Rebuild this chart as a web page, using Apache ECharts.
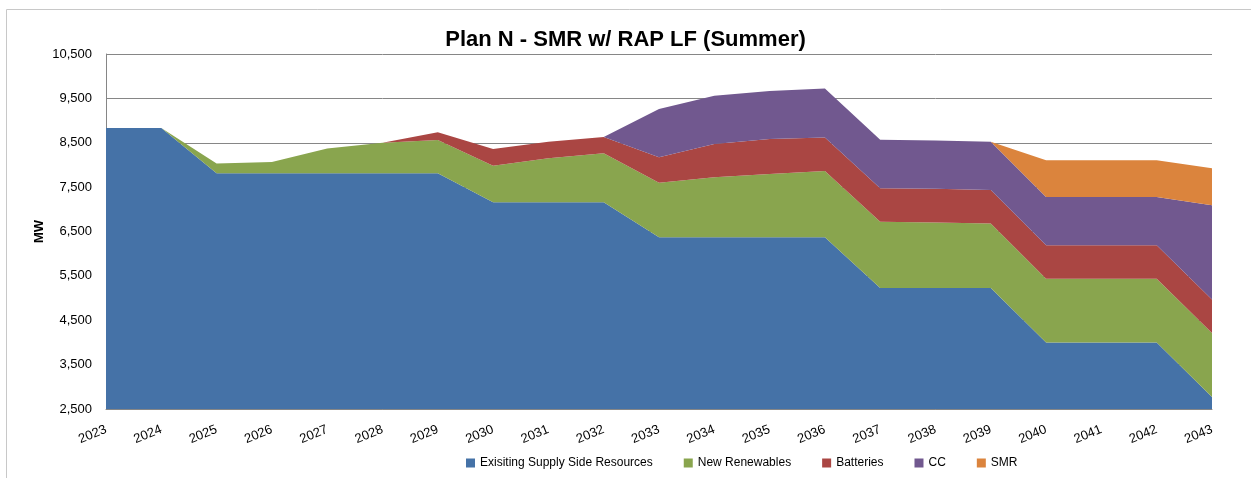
<!DOCTYPE html>
<html>
<head>
<meta charset="utf-8">
<script src="https://cdn.jsdelivr.net/npm/echarts@6/dist/echarts.min.js"></script>
<style>
html,body{margin:0;padding:0;background:#fff;}
#c{width:1251px;height:478px;}
</style>
</head>
<body>
<div id="c"></div>
<script>
var years = ['2023','2024','2025','2026','2027','2028','2029','2030','2031','2032','2033','2034','2035','2036','2037','2038','2039','2040','2041','2042','2043'];
var existing = [8830,8830,7810,7810,7810,7810,7810,7160,7160,7160,6370,6370,6370,6370,5224,5224,5224,4000,4000,4000,2770];
var renewables = [0,0,225,254,563,690,754,824,990,1104,1229,1351,1425,1493,1493,1480,1455,1434,1434,1434,1441];
var batteries = [0,0,0,0,0,0,173,376,374,367,572,749,788,758,759,759,759,758,758,758,757];
var cc = [0,0,0,0,0,0,0,0,0,0,1088,1088,1081,1104,1094,1090,1087,1088,1088,1088,2125];
var smr = [0,0,0,0,0,0,0,0,0,0,0,0,0,0,0,0,0,826,826,826,833];
var yTicks = [2500,3500,4500,5500,6500,7500,8500,9500,10500];

var names = ['Exisiting Supply Side Resources','New Renewables','Batteries','CC','SMR'];
var colors = ['#4572A7','#89A54E','#AA4643','#71588F','#DB843D'];
var datas = [existing, renewables, batteries, cc, smr];

var FONT = 'Liberation Sans';
var chart = echarts.init(document.getElementById('c'), null, {renderer:'canvas'});
var series = datas.map(function(d,i){
  return {
    name: names[i], type:'line', stack:'total', data:d,
    showSymbol:false, symbol:'none',
    lineStyle:{width:0, color:colors[i]},
    itemStyle:{color:colors[i]},
    areaStyle:{color:colors[i], opacity:1},
    emphasis:{disabled:true},
    z: 2
  };
});
chart.setOption({
  animation:false,
  textStyle:{fontFamily:FONT},
  title:{
    text:'Plan N - SMR w/ RAP LF (Summer)',
    left:'center', top:24,
    textStyle:{fontFamily:FONT, fontSize:22, fontWeight:'bold', color:'#000'}
  },
  graphic:[{
    type:'rect', silent:true,
    shape:{x:6.5, y:9.5, width:1400, height:600},
    style:{fill:null, stroke:'#c8c8c8', lineWidth:1}
  }],
  legend:{
    data:names, left:461, top:452,
    itemWidth:9, itemHeight:9, itemGap:31,
    icon:'rect',
    textStyle:{fontFamily:FONT, fontSize:12, color:'#000'}
  },
  grid:{left:106, right:39, top:54, bottom:69, containLabel:false},
  xAxis:{
    type:'category', data:years, boundaryGap:false,
    axisLine:{show:true, lineStyle:{color:'#868686', width:1}},
    axisTick:{show:false},
    axisLabel:{rotate:22, fontSize:13, color:'#000', margin:20, interval:0, fontFamily:FONT},
    splitLine:{show:false}
  },
  yAxis:{
    type:'value', min:2500, max:10500, interval:1000,
    name:'MW', nameLocation:'middle', nameGap:60, nameRotate:90, nameMoveOverlap:false,
    nameTextStyle:{fontFamily:FONT, fontSize:13, fontWeight:'bold', color:'#000'},
    axisLine:{show:true, lineStyle:{color:'#868686', width:1}},
    axisTick:{show:false},
    axisLabel:{fontSize:13, color:'#000', margin:14, fontFamily:FONT,
      formatter:function(v){return v.toLocaleString('en-US');}},
    splitLine:{show:true, lineStyle:{color:'#868686', width:1}}
  },
  series: series
});
</script>
</body>
</html>
